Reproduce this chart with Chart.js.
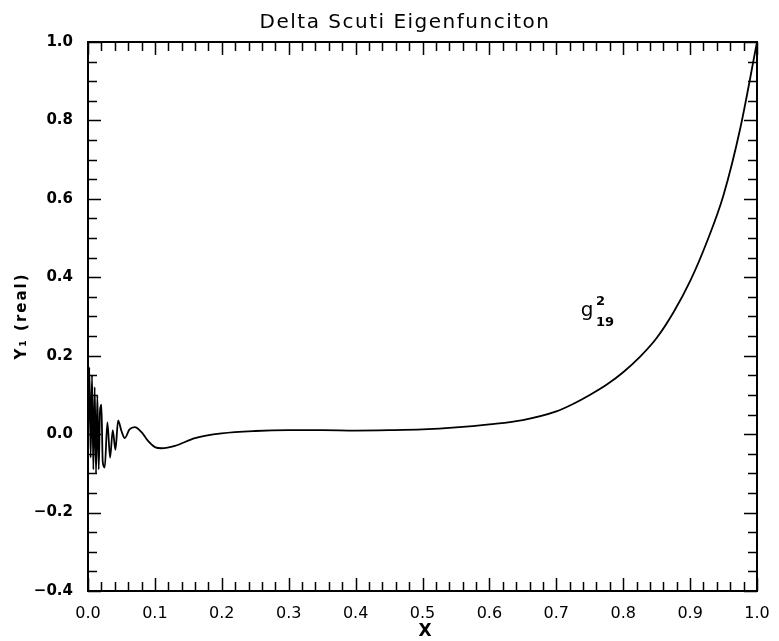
<!DOCTYPE html>
<html>
<head>
<meta charset="utf-8">
<script src="https://cdn.jsdelivr.net/npm/chart.js@4.4.1/dist/chart.umd.min.js"></script>
<style>
  html, body { margin: 0; padding: 0; background: #fff; }
  #wrap { width: 779px; height: 641px; }
</style>
</head>
<body>
<div id="wrap"><canvas id="eigenChart" width="779" height="641"></canvas></div>
<script>
// curve
const xValues = [
  0.000, 0.002, 0.004, 0.006, 0.008, 0.010, 0.012, 0.014, 0.016, 0.018,
  0.020, 0.022, 0.025, 0.029, 0.033, 0.037, 0.041, 0.045, 0.050, 0.055,
  0.062, 0.070, 0.080, 0.090, 0.100, 0.110, 0.130, 0.160, 0.200, 0.250,
  0.300, 0.350, 0.400, 0.450, 0.500, 0.550, 0.600, 0.650, 0.700, 0.725,
  0.750, 0.775, 0.800, 0.825, 0.850, 0.875, 0.900, 0.925, 0.950, 0.975,
  1.000
];
const yValues = [
  0.000, 0.170, -0.060, 0.150, -0.090, 0.120, -0.100, 0.100, -0.090, 0.060,
  0.075, -0.070, -0.085, 0.030, -0.060, 0.010, -0.040, 0.035, 0.008, -0.010,
  0.012, 0.018, 0.005, -0.018, -0.033, -0.036, -0.030, -0.010, 0.002, 0.008,
  0.010, 0.010, 0.009, 0.010, 0.012, 0.017, 0.025, 0.036, 0.058, 0.077,
  0.100, 0.126, 0.158, 0.197, 0.245, 0.310, 0.390, 0.490, 0.610, 0.780,
  1.000
];

const xTicks = [0.0, 0.1, 0.2, 0.3, 0.4, 0.5, 0.6, 0.7, 0.8, 0.9, 1.0];
const yTicks = [-0.4, -0.2, 0.0, 0.2, 0.4, 0.6, 0.8, 1.0];

const titleText = "Delta Scuti Eigenfunciton";
const modeLabel = { x: 0.746, y: 0.31, base: "g", sup: "2", sub: "19" };

const points = xValues.map((x, i) => ({ x: x, y: yValues[i] }));

function fmt(v) {
  const s = Math.abs(v).toFixed(1);
  return v < -1e-9 ? "\u2212" + s : s;
}

// frame, inward ticks, title and the mode label
const decorations = {
  id: "decorations",
  afterDraw(chart) {
    const ctx = chart.ctx;
    const a = chart.chartArea;
    const xs = chart.scales.x;
    const ys = chart.scales.y;
    ctx.save();
    ctx.strokeStyle = "#000";
    ctx.lineWidth = 2;
    ctx.strokeRect(a.left, a.top, a.right - a.left, a.bottom - a.top);

    ctx.lineWidth = 1.5;
    ctx.beginPath();
    for (let i = 0; i <= 50; i++) {
      const px = Math.round(xs.getPixelForValue(i * 0.02)) + 0.5;
      const len = i % 5 === 0 ? 13 : 9;
      ctx.moveTo(px, a.bottom); ctx.lineTo(px, a.bottom - len);
      ctx.moveTo(px, a.top); ctx.lineTo(px, a.top + len);
    }
    for (let i = 0; i <= 28; i++) {
      const py = Math.round(ys.getPixelForValue(-0.4 + i * 0.05)) + 0.5;
      const len = i % 4 === 0 ? 13 : 9;
      ctx.moveTo(a.left, py); ctx.lineTo(a.left + len, py);
      ctx.moveTo(a.right, py); ctx.lineTo(a.right - len, py);
    }
    ctx.stroke();

    ctx.fillStyle = "#000";
    ctx.textAlign = "center";
    ctx.textBaseline = "middle";
    ctx.font = "20px 'DejaVu Sans'";
    ctx.letterSpacing = "1.5px";
    ctx.fillText(titleText, 405, 23);
    ctx.letterSpacing = "0px";

    ctx.font = "bold 17px 'DejaVu Sans'";
    ctx.fillText("X", 425, 632);

    ctx.save();
    ctx.translate(22, 316);
    ctx.rotate(-Math.PI / 2);
    ctx.font = "bold 15px 'DejaVu Sans'";
    ctx.letterSpacing = "2px";
    ctx.fillText("Y\u2081 (real)", 0, 0);
    ctx.restore();

    const lx = xs.getPixelForValue(modeLabel.x);
    const ly = ys.getPixelForValue(modeLabel.y);
    ctx.font = "20px 'DejaVu Sans'";
    ctx.fillText(modeLabel.base, lx, ly - 2);
    ctx.font = "bold 13px 'DejaVu Sans'";
    ctx.textAlign = "left";
    ctx.fillText(modeLabel.sup, lx + 9, ly - 11);
    ctx.fillText(modeLabel.sub, lx + 9, ly + 10);
    ctx.restore();
  }
};

const chart = new Chart("eigenChart", {
  type: "scatter",
  data: {
    datasets: [
      {
        label: "g19",
        data: points,
        showLine: true,
        borderColor: "#000",
        borderWidth: 1.8,
        pointRadius: 0,
        cubicInterpolationMode: "monotone",
        fill: false,
      },
    ],
  },
  options: {
    responsive: false,
    animation: false,
    devicePixelRatio: 1,
    layout: { padding: { left: 0, top: 42, right: 22, bottom: 0 } },
    plugins: {
      legend: { display: false },
      tooltip: { enabled: false },
      title: { display: false },
    },
    scales: {
      x: {
        type: "linear",
        min: 0,
        max: 1,
        grid: { display: false },
        border: { display: false },
        afterBuildTicks: (scale) => {
          scale.ticks = xTicks.map((v) => ({ value: v }));
        },
        afterFit: (scale) => {
          scale.height = 50;
        },
        ticks: {
          padding: 5,
          color: "#000",
          font: { family: "'DejaVu Sans'", size: 16 },
          callback: (v) => fmt(v),
          autoSkip: false,
          maxRotation: 0,
        },
      },
      y: {
        type: "linear",
        min: -0.4,
        max: 1.0,
        grid: { display: false },
        border: { display: false },
        afterBuildTicks: (scale) => {
          scale.ticks = yTicks.map((v) => ({ value: v }));
        },
        afterFit: (scale) => {
          scale.width = 88;
        },
        ticks: {
          padding: 7,
          color: "#000",
          font: { family: "'DejaVu Sans'", size: 15, weight: "bold" },
          callback: (v) => fmt(v),
          autoSkip: false,
        },
      },
    },
  },
  plugins: [decorations],
});
</script>
</body>
</html>
